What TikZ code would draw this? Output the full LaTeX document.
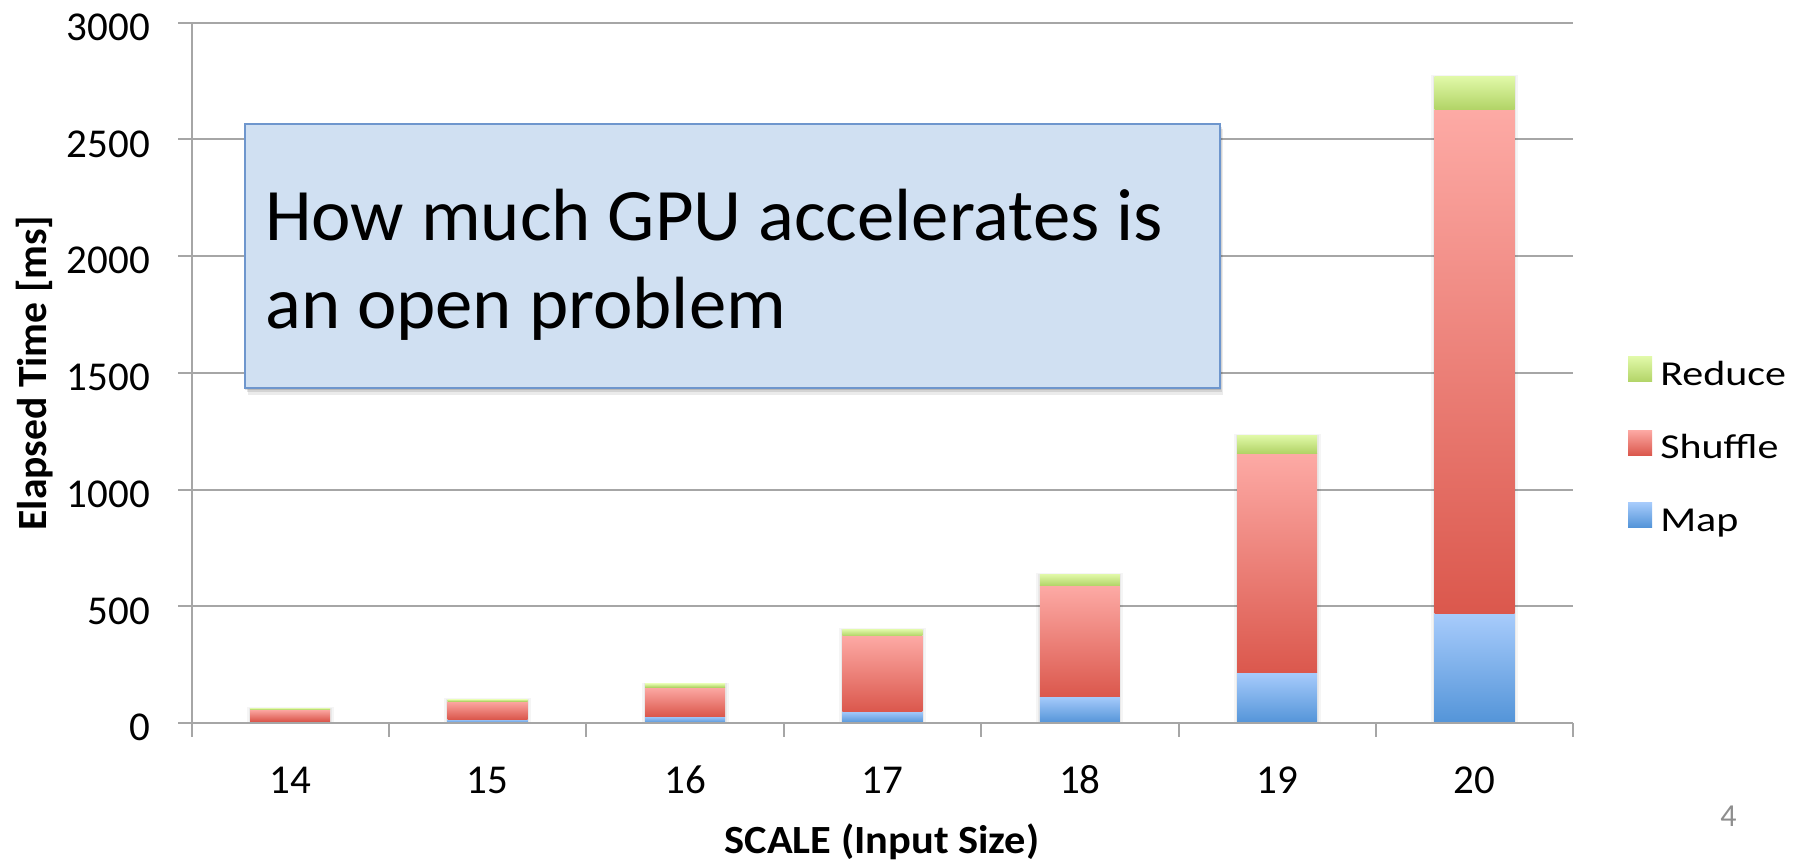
\documentclass[tikz,border=0pt]{standalone}
\usepackage{fontspec}
\setmainfont{Carlito}
\definecolor{gridgray}{HTML}{A6A6A6}
\definecolor{mapTop}{HTML}{A8CCFC}
\definecolor{mapBot}{HTML}{5394D8}
\definecolor{shufTop}{HTML}{FDAAA5}
\definecolor{shufBot}{HTML}{DB584D}
\definecolor{redTop}{HTML}{E1F9A9}
\definecolor{redBot}{HTML}{B2D467}
\definecolor{boxfill}{HTML}{D0E0F2}
\definecolor{boxborder}{HTML}{6E96CD}
\definecolor{pagegray}{HTML}{8E8E8E}
\begin{document}
\begin{tikzpicture}[x=1pt,y=-1pt,
  gridline/.style={draw=gridgray, line width=2pt},
  ticklabel/.style={font=\fontsize{41}{49}\selectfont, inner sep=0pt},
  legendlabel/.style={font=\fontsize{35}{42}\selectfont, inner sep=0pt, anchor=base west, xscale=1.2},
  axistitle/.style={font=\bfseries\fontsize{40}{48}\selectfont, inner sep=0pt},
  swatch/.style={inner sep=0pt, minimum width=24pt, minimum height=25pt},
  calloutfont/.style={font=\fontsize{74}{88}\selectfont, inner sep=0pt, anchor=base west, xscale=1.01}]
\useasboundingbox (0,0) rectangle (1805,860);

% gridlines and y labels
\foreach \v/\lab in {1/500,2/1000,3/1500,4/2000,5/2500,6/3000}{
  \draw[gridline] (178,{723-116.72*\v}) -- (1573.3,{723-116.72*\v});
}
\foreach \v/\lab in {0/0,1/500,2/1000,3/1500,4/2000,5/2500,6/3000}{
  \node[ticklabel, anchor=east] (yl\v) at (150,{727.6-116.72*\v}) {\lab};
}

% bars
\foreach \i/\c/\m/\s/\r in {14/290.2/721/709.3/708, 15/487.6/719/701/699.3, 16/685/716/687/683.7,
    17/882.4/711/635.7/629.3, 18/1079.8/696/585.7/574, 19/1277.2/672/453/435, 20/1474.6/613.1/109.1/76.2}{
  \fill[black, opacity=0.04] ({\c-43.5},{\r-1}) rectangle ({\c+43.5},723);
  \fill[black, opacity=0.05] ({\c-41.5},{\r-0.5}) rectangle ({\c+41.5},723);
  \shade[top color=mapTop, bottom color=mapBot] ({\c-40},723) rectangle ({\c+40},\m);
  \shade[top color=shufTop, bottom color=shufBot] ({\c-40},\m) rectangle ({\c+40},\s);
  \shade[top color=redTop, bottom color=redBot] ({\c-40},\s) rectangle ({\c+40},\r);
  \node[ticklabel] (xl\i) at (\c,780) {\i};
}

% axes
\draw[gridline] (178,723) -- (1573.3,723);
\draw[gridline] (191.5,22.7) -- (191.5,736.7);
\foreach \k in {1,...,7}{
  \draw[gridline] ({191.5+197.4*\k},723) -- ({191.5+197.4*\k},736.7);
}

% axis titles
\node[axistitle, anchor=base, xscale=1.06] (xtitle) at (882,853) {SCALE (Input Size)};
\node[axistitle, anchor=base, rotate=90, scale=1.04] (ytitle) at (46.7,373) {Elapsed Time [ms]};

% legend
\node[swatch, top color=redTop, bottom color=redBot] (swR) at (1640,369.2) {};
\node[swatch, top color=shufTop, bottom color=shufBot] (swS) at (1640,442.5) {};
\node[swatch, top color=mapTop, bottom color=mapBot] (swM) at (1640,514.7) {};
\node[legendlabel] (lgR) at (1660,385.7) {Reduce};
\node[legendlabel] (lgS) at (1660,458.8) {Shuffle};
\node[legendlabel] (lgM) at (1660,531.2) {Map};

% callout with shadow
\fill[black, opacity=0.08] (247.5,129.3) rectangle (1223.2,394.7);
\fill[black, opacity=0.10] (246.5,127.3) rectangle (1222.2,392.2);
\fill[black, opacity=0.12] (245,125.3) rectangle (1220.7,389.7);
\node[draw=boxborder, fill=boxfill, line width=2pt, minimum width=975.7pt, minimum height=263.4pt,
      inner sep=0pt, anchor=north west] (callout) at (243.5,123.3) {};
\node[calloutfont] (line1) at (265,240) {How much GPU accelerates is};
\node[calloutfont] (line2) at (265,328.3) {an open problem};

% page number
\node[font=\fontsize{32}{38}\selectfont, text=pagegray, anchor=base, inner sep=0pt] (pagenum) at (1728.4,826.7) {4};
\end{tikzpicture}
\end{document}
